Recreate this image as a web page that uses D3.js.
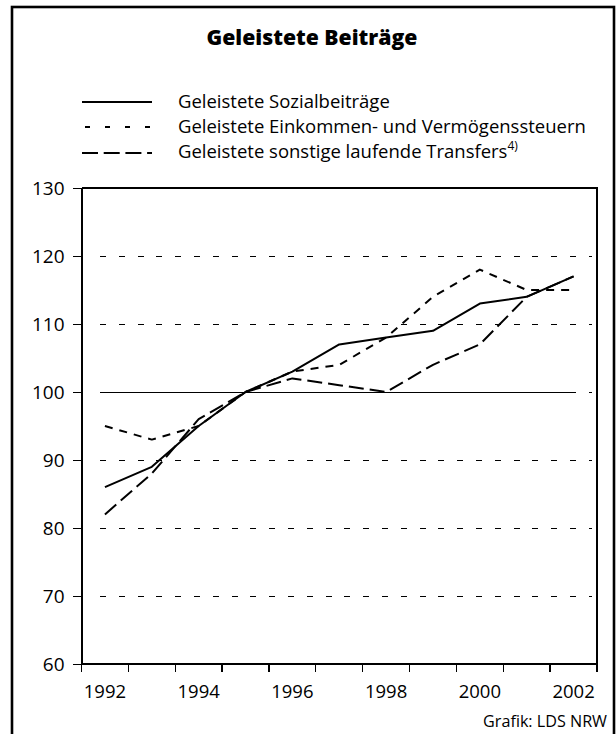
<!DOCTYPE html>
<html>
<head>
<meta charset="utf-8">
<script src="https://cdn.jsdelivr.net/npm/d3@7"></script>
<style>
  html, body { margin: 0; padding: 0; background: #fff; }
  svg { display: block; }
  text { font-family: "Open Sans", "Noto Sans", sans-serif; fill: #000; }
</style>
</head>
<body>
<svg id="chart" width="616" height="734"></svg>
<script>
// ---- data ----
const years = [1992, 1993, 1994, 1995, 1996, 1997, 1998, 1999, 2000, 2001, 2002];
const sozialbeitraege = [86, 89, 95, 100, 103, 107, 108, 109, 113, 114, 117];
const steuern = [95, 93, 95, 100, 103, 104, 108, 114, 118, 115, 115];
const transfers = [82, 88, 96, 100, 102, 101, 100, 104, 107, 114, 117];
const yTicks = [60, 70, 80, 90, 100, 110, 120, 130];
const xLabelYears = [1992, 1994, 1996, 1998, 2000, 2002];
const title = "Geleistete Beiträge";
const seriesNames = ["Geleistete Sozialbeiträge", "Geleistete Einkommen- und Vermögenssteuern", "Geleistete sonstige laufende Transfers"];
const footnote = "4)";
const source = "Grafik: LDS NRW";

const series = [
  { name: seriesNames[1], values: steuern, dash: "8,7" },
  { name: seriesNames[2], values: transfers, dash: "15,6" },
  { name: seriesNames[0], values: sozialbeitraege, dash: null }
];

const svg = d3.select("#chart");

// outer frame
svg.append("rect").attr("x", 12).attr("y", 7).attr("width", 602).attr("height", 740)
  .attr("fill", "none").attr("stroke", "#000").attr("stroke-width", 2.6);

// helper to fit font size to target width
function fit(sel, targetW) {
  const fs = parseFloat(sel.attr("font-size"));
  const w = sel.node().getComputedTextLength();
  sel.attr("font-size", (fs * targetW / w).toFixed(2));
}

// title
const t = svg.append("text").attr("x", 312).attr("y", 45).attr("text-anchor", "middle")
  .attr("font-weight", 800).attr("font-size", 20).text(title);
fit(t, 211);

// scales
const x = d3.scaleBand().domain(years).range([81.5, 597]).padding(0);
const y = d3.scaleLinear().domain([60, 130]).range([664, 188]);
const cx = d => x(d) + x.bandwidth() / 2;

// gridlines (dashed)
const gridX0 = cx(years[0]) - 5, gridX1 = 592;
svg.append("g").selectAll("line").data(yTicks.filter(v => v > 60 && v < 130)).join("line")
  .attr("x1", gridX0).attr("x2", gridX1)
  .attr("y1", d => y(d) + 0.5).attr("y2", d => y(d) + 0.5)
  .attr("stroke", "#000").attr("stroke-width", 1).attr("stroke-dasharray", "6,12.8")
  .attr("shape-rendering", "crispEdges");
// 100 reference line (solid)
svg.append("line").attr("x1", gridX0).attr("x2", cx(years[years.length - 1]) + 1)
  .attr("y1", y(100) + 0.5).attr("y2", y(100) + 0.5).attr("stroke", "#000").attr("stroke-width", 1.2)
  .attr("shape-rendering", "crispEdges");

// plot frame: top, right
svg.append("path")
  .attr("d", `M${x.range()[0]},${y(130)}H${x.range()[1]}V${y(60)}`)
  .attr("fill", "none").attr("stroke", "#000").attr("stroke-width", 1.3)
  .attr("shape-rendering", "crispEdges");

// y axis
const yAxis = d3.axisLeft(y).tickValues(yTicks).tickSize(9).tickPadding(8).tickFormat(d3.format("d"));
const gy = svg.append("g").attr("transform", `translate(${x.range()[0]},0)`).call(yAxis);
gy.select(".domain").attr("stroke-width", 1.5).attr("shape-rendering", "crispEdges");
gy.selectAll(".tick line").attr("stroke-width", 1.3).attr("shape-rendering", "crispEdges");
gy.selectAll(".tick text").attr("font-size", 19).attr("font-family", "Open Sans");

// x axis: ticks at band edges
const edges = years.map(d => x(d)).concat([x.range()[1]]);
const gx = svg.append("g").attr("shape-rendering", "crispEdges");
gx.append("line").attr("x1", x.range()[0]).attr("x2", x.range()[1])
  .attr("y1", y(60)).attr("y2", y(60)).attr("stroke", "#000").attr("stroke-width", 1.5);
gx.selectAll("line.tk").data(edges).join("line").attr("class", "tk")
  .attr("x1", d => d).attr("x2", d => d).attr("y1", y(60)).attr("y2", y(60) + 8)
  .attr("stroke", "#000").attr("stroke-width", 1.3);
gx.selectAll("text").data(xLabelYears).join("text")
  .attr("x", d => cx(d)).attr("y", 698).attr("text-anchor", "middle")
  .attr("font-size", 18.5).text(d => d);

// lines
const line = d3.line().x((d, i) => cx(years[i])).y(d => y(d));
svg.append("g").selectAll("path").data(series).join("path")
  .attr("d", d => line(d.values))
  .attr("fill", "none").attr("stroke", "#000").attr("stroke-width", 2)
  .attr("stroke-linejoin", "round")
  .attr("stroke-dasharray", d => d.dash);

// legend
const legendItems = [
  { name: seriesNames[0], dash: null, ly: 102, ty: 107.5 },
  { name: seriesNames[1], dash: "5,15", ly: 127, ty: 132.5, x0: 85 },
  { name: seriesNames[2], dash: "16,5.7", ly: 153, ty: 157.5 }
];
const lg = svg.append("g");
legendItems.forEach((it, i) => {
  lg.append("line").attr("x1", it.x0 || 82).attr("x2", 152).attr("y1", it.ly).attr("y2", it.ly)
    .attr("stroke", "#000").attr("stroke-width", 2).attr("stroke-dasharray", it.dash);
  const tx = lg.append("text").attr("class", "lt").attr("x", 178).attr("y", it.ty).attr("font-size", 17).text(it.name);
  if (i === 2) {
    tx.append("tspan").attr("font-size", 12).attr("dy", -8).text(footnote);
  }
});
// fit legend font based on longest line
const lt = lg.selectAll("text.lt");
const n2 = lt.filter((d, i) => i === 1);
const fs0 = 17, w2 = n2.node().getComputedTextLength();
const fsL = (fs0 * 408 / w2).toFixed(2);
lt.attr("font-size", fsL);

// source
const s = svg.append("text").attr("x", 607).attr("y", 727).attr("text-anchor", "end")
  .attr("font-size", 15).text(source);
fit(s, 124);
</script>
</body>
</html>
